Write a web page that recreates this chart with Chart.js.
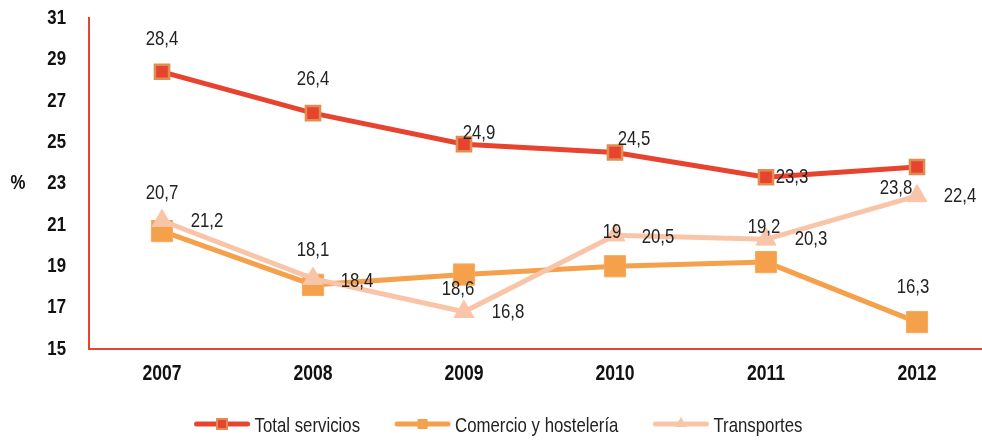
<!DOCTYPE html>
<html>
<head>
<meta charset="utf-8">
<script src="https://cdn.jsdelivr.net/npm/chart.js@4.4.0/dist/chart.umd.min.js"></script>
<style>
  html, body { margin: 0; padding: 0; background: #fff; }
  #wrap { width: 982px; height: 441px; position: relative; }
</style>
</head>
<body>
<div id="wrap"><canvas id="chart"></canvas></div>
<script>
var years = [2007, 2008, 2009, 2010, 2011, 2012];
var totalServicios = [28.4, 26.4, 24.9, 24.5, 23.3, 23.8];
var comercioHosteleria = [20.7, 18.1, 18.6, 19.0, 19.2, 16.3];
var transportes = [21.2, 18.4, 16.8, 20.5, 20.3, 22.4];
var yTicks = [15, 17, 19, 21, 23, 25, 27, 29, 31];

var FONT = "'Liberation Sans', Arial, sans-serif";
var SQUEEZE = 0.8; // the original uses a narrow face, squeeze the regular one

// label offsets (dx, dy) from each point, taken from the original layout
var labelOffsets = [
    [[0, -33], [0, -34], [15, -11], [19, -13], [26, 0], [-21, 21]],
    [[0, -38], [0, -35], [-6, 15], [-3, -34], [-2, -35], [-4, -35]],
    [[45, 0], [44, 3], [44, 0], [43, 2], [45, 0], [43, 0]]
];

function toXY(arr) {
    return arr.map(function(v, i) { return { x: years[i], y: v }; });
}

// draw text squeezed horizontally
function narrowText(ctx, txt, x, y, size, bold, align) {
    ctx.save();
    ctx.font = (bold ? 'bold ' : '') + size + 'px ' + FONT;
    ctx.textBaseline = 'middle';
    ctx.textAlign = align || 'center';
    ctx.translate(x, y);
    ctx.scale(SQUEEZE, 1);
    ctx.fillText(txt, 0, 0);
    ctx.restore();
}

function narrowWidth(ctx, txt, size, bold) {
    ctx.save();
    ctx.font = (bold ? 'bold ' : '') + size + 'px ' + FONT;
    var w = ctx.measureText(txt).width * SQUEEZE;
    ctx.restore();
    return w;
}

var axisText = {
    id: 'axisText',
    afterDraw: function(chart) {
        var ctx = chart.ctx;
        var xs = chart.scales.x, ys = chart.scales.y;
        ctx.save();
        ctx.fillStyle = '#111';
        yTicks.forEach(function(v) {
            narrowText(ctx, String(v), 66, ys.getPixelForValue(v), 21, true, 'right');
        });
        years.forEach(function(v) {
            narrowText(ctx, String(v), xs.getPixelForValue(v), 374, 22, true, 'center');
        });
        narrowText(ctx, '%', 18, ys.getPixelForValue(23), 21, true, 'center');
        ctx.restore();
    }
};

var pointLabels = {
    id: 'pointLabels',
    afterDatasetsDraw: function(chart) {
        var ctx = chart.ctx;
        ctx.save();
        ctx.fillStyle = '#222';
        chart.data.datasets.forEach(function(ds, di) {
            var meta = chart.getDatasetMeta(di);
            meta.data.forEach(function(pt, i) {
                var txt = String(ds.data[i].y).replace('.', ',');
                var off = labelOffsets[di][i];
                narrowText(ctx, txt, pt.x + off[0], pt.y + off[1], 21, false, 'center');
            });
        });
        ctx.restore();
    }
};

var customLegend = {
    id: 'customLegend',
    afterDraw: function(chart) {
        var ctx = chart.ctx;
        var ds = chart.data.datasets;
        var iconW = 57, gap = 4, between = 34, y = 426;
        var widths = ds.map(function(d) { return narrowWidth(ctx, d.label, 21, false); });
        var total = widths.reduce(function(a, b) { return a + b; }, 0) + ds.length * (iconW + gap) + (ds.length - 1) * between;
        var x = 498 - total / 2;
        ctx.save();
        ds.forEach(function(d, i) {
            ctx.strokeStyle = d.borderColor;
            ctx.lineWidth = 5;
            ctx.lineCap = 'round';
            ctx.beginPath();
            ctx.moveTo(x + 3, y - 2);
            ctx.lineTo(x + iconW - 3, y - 2);
            ctx.stroke();
            var cx = x + iconW / 2, cy = y - 2;
            ctx.fillStyle = d.pointBackgroundColor;
            if (d.pointStyle === 'rect') {
                var s = 10;
                ctx.fillRect(cx - s / 2, cy - s / 2, s, s);
                if (i === 0) {
                    ctx.strokeStyle = d.pointBorderColor;
                    ctx.lineWidth = 2;
                    ctx.strokeRect(cx - s / 2, cy - s / 2, s, s);
                }
            } else {
                ctx.beginPath();
                ctx.moveTo(cx, cy - 7);
                ctx.lineTo(cx + 6, cy + 3);
                ctx.lineTo(cx - 6, cy + 3);
                ctx.closePath();
                ctx.fill();
            }
            ctx.fillStyle = '#222';
            narrowText(ctx, d.label, x + iconW + gap, y, 21, false, 'left');
            x += iconW + gap + widths[i] + between;
        });
        ctx.restore();
    }
};

var ctx = document.getElementById('chart');
new Chart(ctx, {
    type: 'line',
    data: {
        datasets: [
            {
                label: 'Total servicios',
                data: toXY(totalServicios),
                borderColor: '#e8432f',
                backgroundColor: '#e8432f',
                borderWidth: 5,
                pointStyle: 'rect',
                pointRadius: 10,
                pointBorderColor: '#dd8f52',
                pointBorderWidth: 2.5,
                pointBackgroundColor: '#e8432f',
                order: 0
            },
            {
                label: 'Comercio y hostelería',
                data: toXY(comercioHosteleria),
                borderColor: '#f5a04b',
                backgroundColor: '#f5a04b',
                borderWidth: 5,
                pointStyle: 'rect',
                pointRadius: 15,
                pointBorderColor: '#f7aa5e',
                pointBorderWidth: 1,
                pointBackgroundColor: '#f5a04b',
                order: 2
            },
            {
                label: 'Transportes',
                data: toXY(transportes),
                borderColor: '#f9c5a9',
                backgroundColor: '#f9c5a9',
                borderWidth: 5,
                pointStyle: 'triangle',
                pointRadius: 11.5,
                pointBorderColor: '#f9c5a9',
                pointBorderWidth: 1,
                pointBackgroundColor: '#f9c5a9',
                order: 1
            }
        ]
    },
    options: {
        responsive: true,
        maintainAspectRatio: false,
        animation: false,
        layout: { autoPadding: false, padding: { top: 18, right: 0, left: 0, bottom: 50 } },
        plugins: {
            tooltip: { enabled: false },
            legend: { display: false }
        },
        scales: {
            x: {
                type: 'linear',
                min: 2007 - 73 / 151,
                max: 2012 + 65 / 151,
                afterBuildTicks: function(scale) {
                    scale.ticks = years.map(function(y) { return { value: y }; });
                },
                afterFit: function(scale) { scale.height = 42; },
                grid: { display: false, drawTicks: false },
                border: { color: '#e8432f', width: 2 },
                ticks: { display: false }
            },
            y: {
                min: 15,
                max: 31,
                afterBuildTicks: function(scale) {
                    scale.ticks = yTicks.map(function(v) { return { value: v }; });
                },
                afterFit: function(scale) { scale.width = 89; },
                grid: { display: false, drawTicks: false },
                border: { color: '#e8432f', width: 2 },
                ticks: { display: false }
            }
        }
    },
    plugins: [axisText, pointLabels, customLegend]
});
</script>
</body>
</html>
